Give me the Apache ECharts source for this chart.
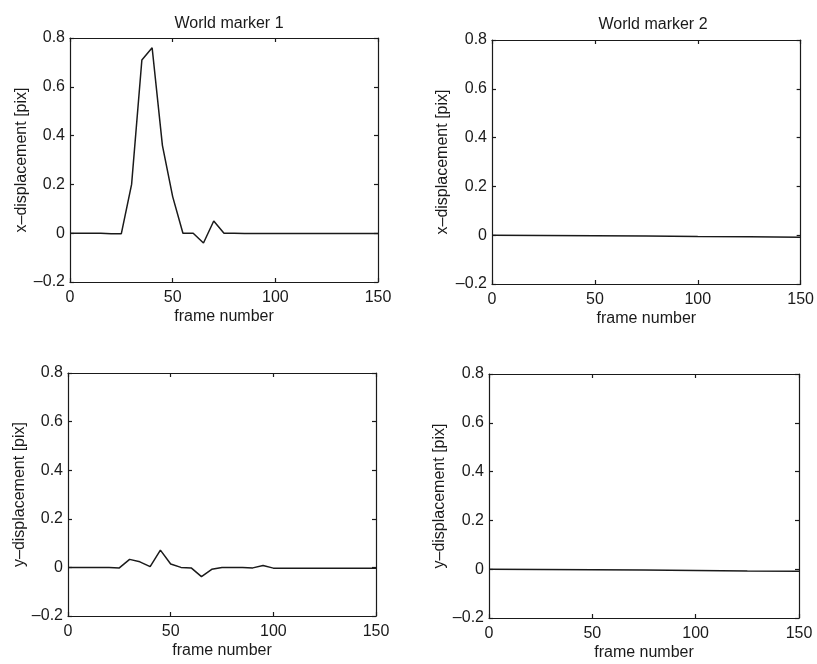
<!DOCTYPE html>
<html>
<head>
<meta charset="utf-8">
<script src="https://cdn.jsdelivr.net/npm/echarts@6/dist/echarts.min.js"></script>
<style>
  html, body { margin: 0; padding: 0; background: #fff; }
  #chart { width: 817px; height: 664px; }
</style>
</head>
<body>
<div id="chart"></div>
<script>
// frame numbers sampled every 5 frames (marker 1)
const frames5 = [0, 5, 10, 15, 20, 25, 30, 35, 40, 45, 50, 55, 60, 65, 70, 75, 80, 85, 90, 95,
  100, 105, 110, 115, 120, 125, 130, 135, 140, 145, 150];
const marker1X = [0, 0, 0, 0, -0.002, -0.002, 0.2, 0.71, 0.76, 0.36, 0.15, 0, 0, -0.04, 0.05, 0,
  0, -0.001, -0.001, -0.001, -0.001, -0.001, -0.001, -0.001, -0.001, -0.001, -0.001, -0.001, -0.001, -0.001, -0.001];
const marker1Y = [0, 0, 0, 0, 0, -0.002, 0.033, 0.023, 0.003, 0.071, 0.014, 0, -0.002, -0.038, -0.008, 0,
  0, 0, -0.002, 0.008, -0.003, -0.003, -0.003, -0.003, -0.003, -0.003, -0.003, -0.003, -0.003, -0.003, -0.003];

// marker 2 only drifts slightly, read at coarser steps
const frames25 = [0, 25, 50, 75, 100, 125, 150];
const marker2X = [0, -0.001, -0.002, -0.003, -0.005, -0.006, -0.008];
const marker2Y = [0, -0.001, -0.002, -0.003, -0.005, -0.007, -0.008];

const titles = ['World marker 1', 'World marker 2'];
const yNames = ['x\u2013displacement [pix]', 'x\u2013displacement [pix]', 'y\u2013displacement [pix]', 'y\u2013displacement [pix]'];
const xName = 'frame number';

const font = 'Liberation Sans, Arial, sans-serif';
const ink = '#1a1a1a';

const grids = [
  { left: 70, top: 38, width: 308, height: 244 },
  { left: 492, top: 40, width: 310, height: 244 },
  { left: 68, top: 373, width: 308, height: 243 },
  { left: 489, top: 374, width: 310, height: 244 },
];
const yGaps = [40, 41, 40, 41];

const zip = (xs, ys) => xs.map((x, i) => [x, ys[i]]);
const seriesData = [
  zip(frames5, marker1X),
  zip(frames25, marker2X),
  zip(frames5, marker1Y),
  zip(frames25, marker2Y),
];

const fmtY = (v) => {
  const r = Math.round(v * 10) / 10;
  return r === 0 ? '0' : String(r).replace('-', '\u2013');
};

const xAxis = [];
const yAxis = [];
const series = [];

grids.forEach((g, i) => {
  const lineStyle = { color: ink, width: 1.2 };
  xAxis.push({
    type: 'value', gridIndex: i, position: 'bottom',
    min: 0, max: 150, interval: 50,
    name: xName, nameLocation: 'middle', nameGap: 27,
    nameTextStyle: { fontFamily: font, fontSize: 16, color: ink },
    axisLine: { show: true, onZero: false, lineStyle },
    axisTick: { show: true, inside: true, length: 4, lineStyle },
    axisLabel: { fontFamily: font, fontSize: 16, color: ink, margin: 8 },
    splitLine: { show: false },
  });
  xAxis.push({
    type: 'value', gridIndex: i, position: 'top',
    min: 0, max: 150, interval: 50,
    axisLine: { show: true, onZero: false, lineStyle },
    axisTick: { show: true, inside: true, length: 4, lineStyle },
    axisLabel: { show: false },
    splitLine: { show: false },
  });
  yAxis.push({
    type: 'value', gridIndex: i, position: 'left',
    min: -0.2, max: 0.8, interval: 0.2,
    name: yNames[i], nameLocation: 'middle', nameGap: yGaps[i],
    nameTextStyle: { fontFamily: font, fontSize: 16, color: ink },
    axisLine: { show: true, onZero: false, lineStyle },
    axisTick: { show: true, inside: true, length: 4, lineStyle },
    axisLabel: { fontFamily: font, fontSize: 16, color: ink, margin: 5, formatter: fmtY },
    splitLine: { show: false },
  });
  yAxis.push({
    type: 'value', gridIndex: i, position: 'right',
    min: -0.2, max: 0.8, interval: 0.2,
    axisLine: { show: true, onZero: false, lineStyle },
    axisTick: { show: true, inside: true, length: 4, lineStyle },
    axisLabel: { show: false },
    splitLine: { show: false },
  });
  series.push({
    type: 'line',
    xAxisIndex: i * 2,
    yAxisIndex: i * 2,
    data: seriesData[i],
    showSymbol: false,
    lineStyle: { color: ink, width: 1.5 },
    animation: false,
  });
});

const chart = echarts.init(document.getElementById('chart'));
chart.setOption({
  backgroundColor: '#fff',
  animation: false,
  title: [
    { text: titles[0], left: 224, top: 11, textAlign: 'center',
      textStyle: { fontFamily: font, fontSize: 16, fontWeight: 'normal', color: ink } },
    { text: titles[1], left: 648, top: 12, textAlign: 'center',
      textStyle: { fontFamily: font, fontSize: 16, fontWeight: 'normal', color: ink } },
  ],
  grid: grids,
  xAxis,
  yAxis,
  series,
});
window.addEventListener('resize', () => chart.resize());
</script>
</body>
</html>
